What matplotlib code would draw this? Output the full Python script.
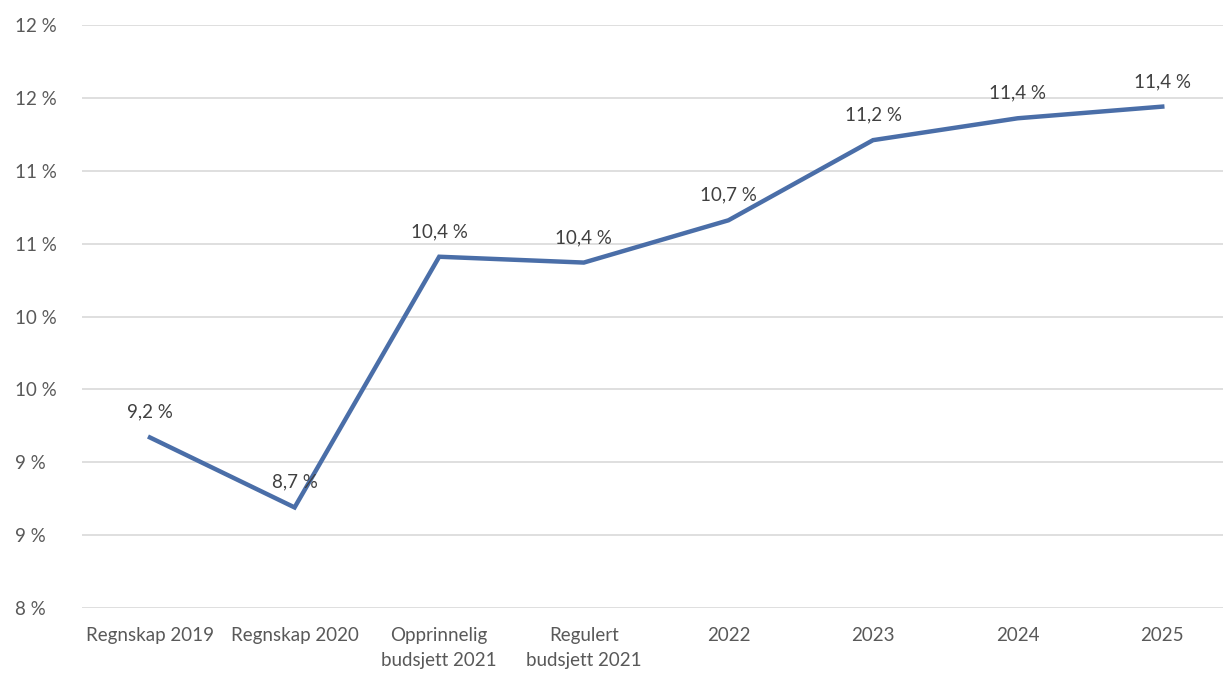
import matplotlib.pyplot as plt
from matplotlib.ticker import FuncFormatter

categories = ["Regnskap 2019", "Regnskap 2020", "Opprinnelig\nbudsjett 2021",
              "Regulert\nbudsjett 2021", "2022", "2023", "2024", "2025"]
values = [9.17, 8.69, 10.41, 10.37, 10.66, 11.21, 11.36, 11.44]
labels = ["9,2 %", "8,7 %", "10,4 %", "10,4 %", "10,7 %", "11,2 %", "11,4 %", "11,4 %"]
yticks = [8.0, 8.5, 9.0, 9.5, 10.0, 10.5, 11.0, 11.5, 12.0]

plt.rcParams['font.family'] = ['Lato', 'DejaVu Sans']
grey = '#595959'

fig = plt.figure(figsize=(12.23, 6.74), dpi=100)
ax = fig.add_axes([82 / 1223, 1 - 608 / 674, 1 - 82 / 1223, (608 - 25) / 674])

x = list(range(len(categories)))
ax.plot(x, values, color='#4a6ea8', lw=3.2, solid_joinstyle='miter', zorder=3)

for xi, v, lab in zip(x, values, labels):
    ax.annotate(lab, (xi, v), xytext=(0, 12), textcoords='offset points',
                ha='center', va='bottom', fontsize=13.5, color='#404040')

ax.set_xlim(-0.47, 7.42)
ax.set_ylim(8, 12)
ax.set_yticks(yticks)
ax.yaxis.set_major_formatter(FuncFormatter(lambda v, p: f"{int(v + 0.5)} %"))
ax.set_xticks(x)
ax.set_xticklabels(categories, fontsize=13.5, color=grey, linespacing=1.55)
ax.tick_params(axis='y', labelsize=13.5, labelcolor=grey, length=0, pad=48)
ax.tick_params(axis='x', length=0, pad=14)
for lbl in ax.get_yticklabels():
    lbl.set_horizontalalignment('left')

ax.grid(axis='y', color='#d9d9d9', lw=1.2)
ax.set_axisbelow(True)
for s in ax.spines.values():
    s.set_visible(False)

fig.savefig("out.png", dpi=100)
